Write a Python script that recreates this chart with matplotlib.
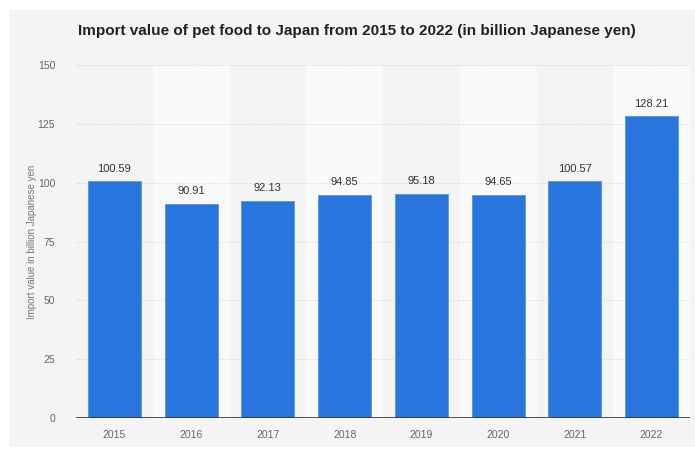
import matplotlib.pyplot as plt
from matplotlib.patches import Rectangle

plt.rcParams["font.family"] = ["Liberation Sans", "DejaVu Sans"]

years = ["2015", "2016", "2017", "2018", "2019", "2020", "2021", "2022"]
values = [100.59, 90.91, 92.13, 94.85, 95.18, 94.65, 100.57, 128.21]
y_ticks = [0, 25, 50, 75, 100, 125, 150]

fig = plt.figure(figsize=(6.95, 4.53), dpi=100)
fig.patch.set_facecolor("white")

# light grey card behind everything
card = Rectangle((9 / 695, 6 / 453), 686 / 695, 437 / 453,
                 transform=fig.transFigure, facecolor="#f4f4f4",
                 edgecolor="none", zorder=-10)
fig.patches.append(card)

ax = fig.add_axes([76 / 695, 35 / 453, 614 / 695, 353 / 453])
ax.set_zorder(1)
ax.set_facecolor("none")

x = range(len(years))

# alternating column bands
for i in x:
    if i % 2 == 1:
        ax.axvspan(i - 0.5, i + 0.5, color="#fafafa", zorder=0, lw=0)

for t in y_ticks[1:]:
    ax.axhline(t, color="#d4d4d4", lw=0.7, ls=(0, (1, 1.5)), zorder=1)

bars = ax.bar(x, values, width=0.69, color="#2875dd", edgecolor="#5a95e6",
              linewidth=0.6, zorder=2)

for b, v in zip(bars, values):
    ax.text(b.get_x() + b.get_width() / 2, v + 3.3, f"{v:.2f}",
            ha="center", va="bottom", fontsize=8, color="#333333", zorder=3)

ax.axhline(0, color="#333333", lw=1.2, zorder=3)

ax.set_xlim(-0.5, len(years) - 0.5)
ax.set_ylim(0, 150)
ax.set_xticks(list(x))
ax.set_xticklabels(years)
ax.set_yticks(y_ticks)
ax.tick_params(axis="both", length=0, labelsize=7.5, labelcolor="#666666")
ax.tick_params(axis="y", pad=15)
ax.tick_params(axis="x", pad=9)
for s in ax.spines.values():
    s.set_visible(False)

ax.set_ylabel("Import value in billion Japanese yen", fontsize=7,
              color="#777777")
ax.yaxis.set_label_coords(-0.063, 0.5)

fig.text(0.514, 1 - 31 / 453, "Import value of pet food to Japan from 2015 to 2022 (in billion Japanese yen)",
         ha="center", va="center", fontsize=11, fontweight="bold", color="#222222")

fig.savefig("out.png", dpi=100)
